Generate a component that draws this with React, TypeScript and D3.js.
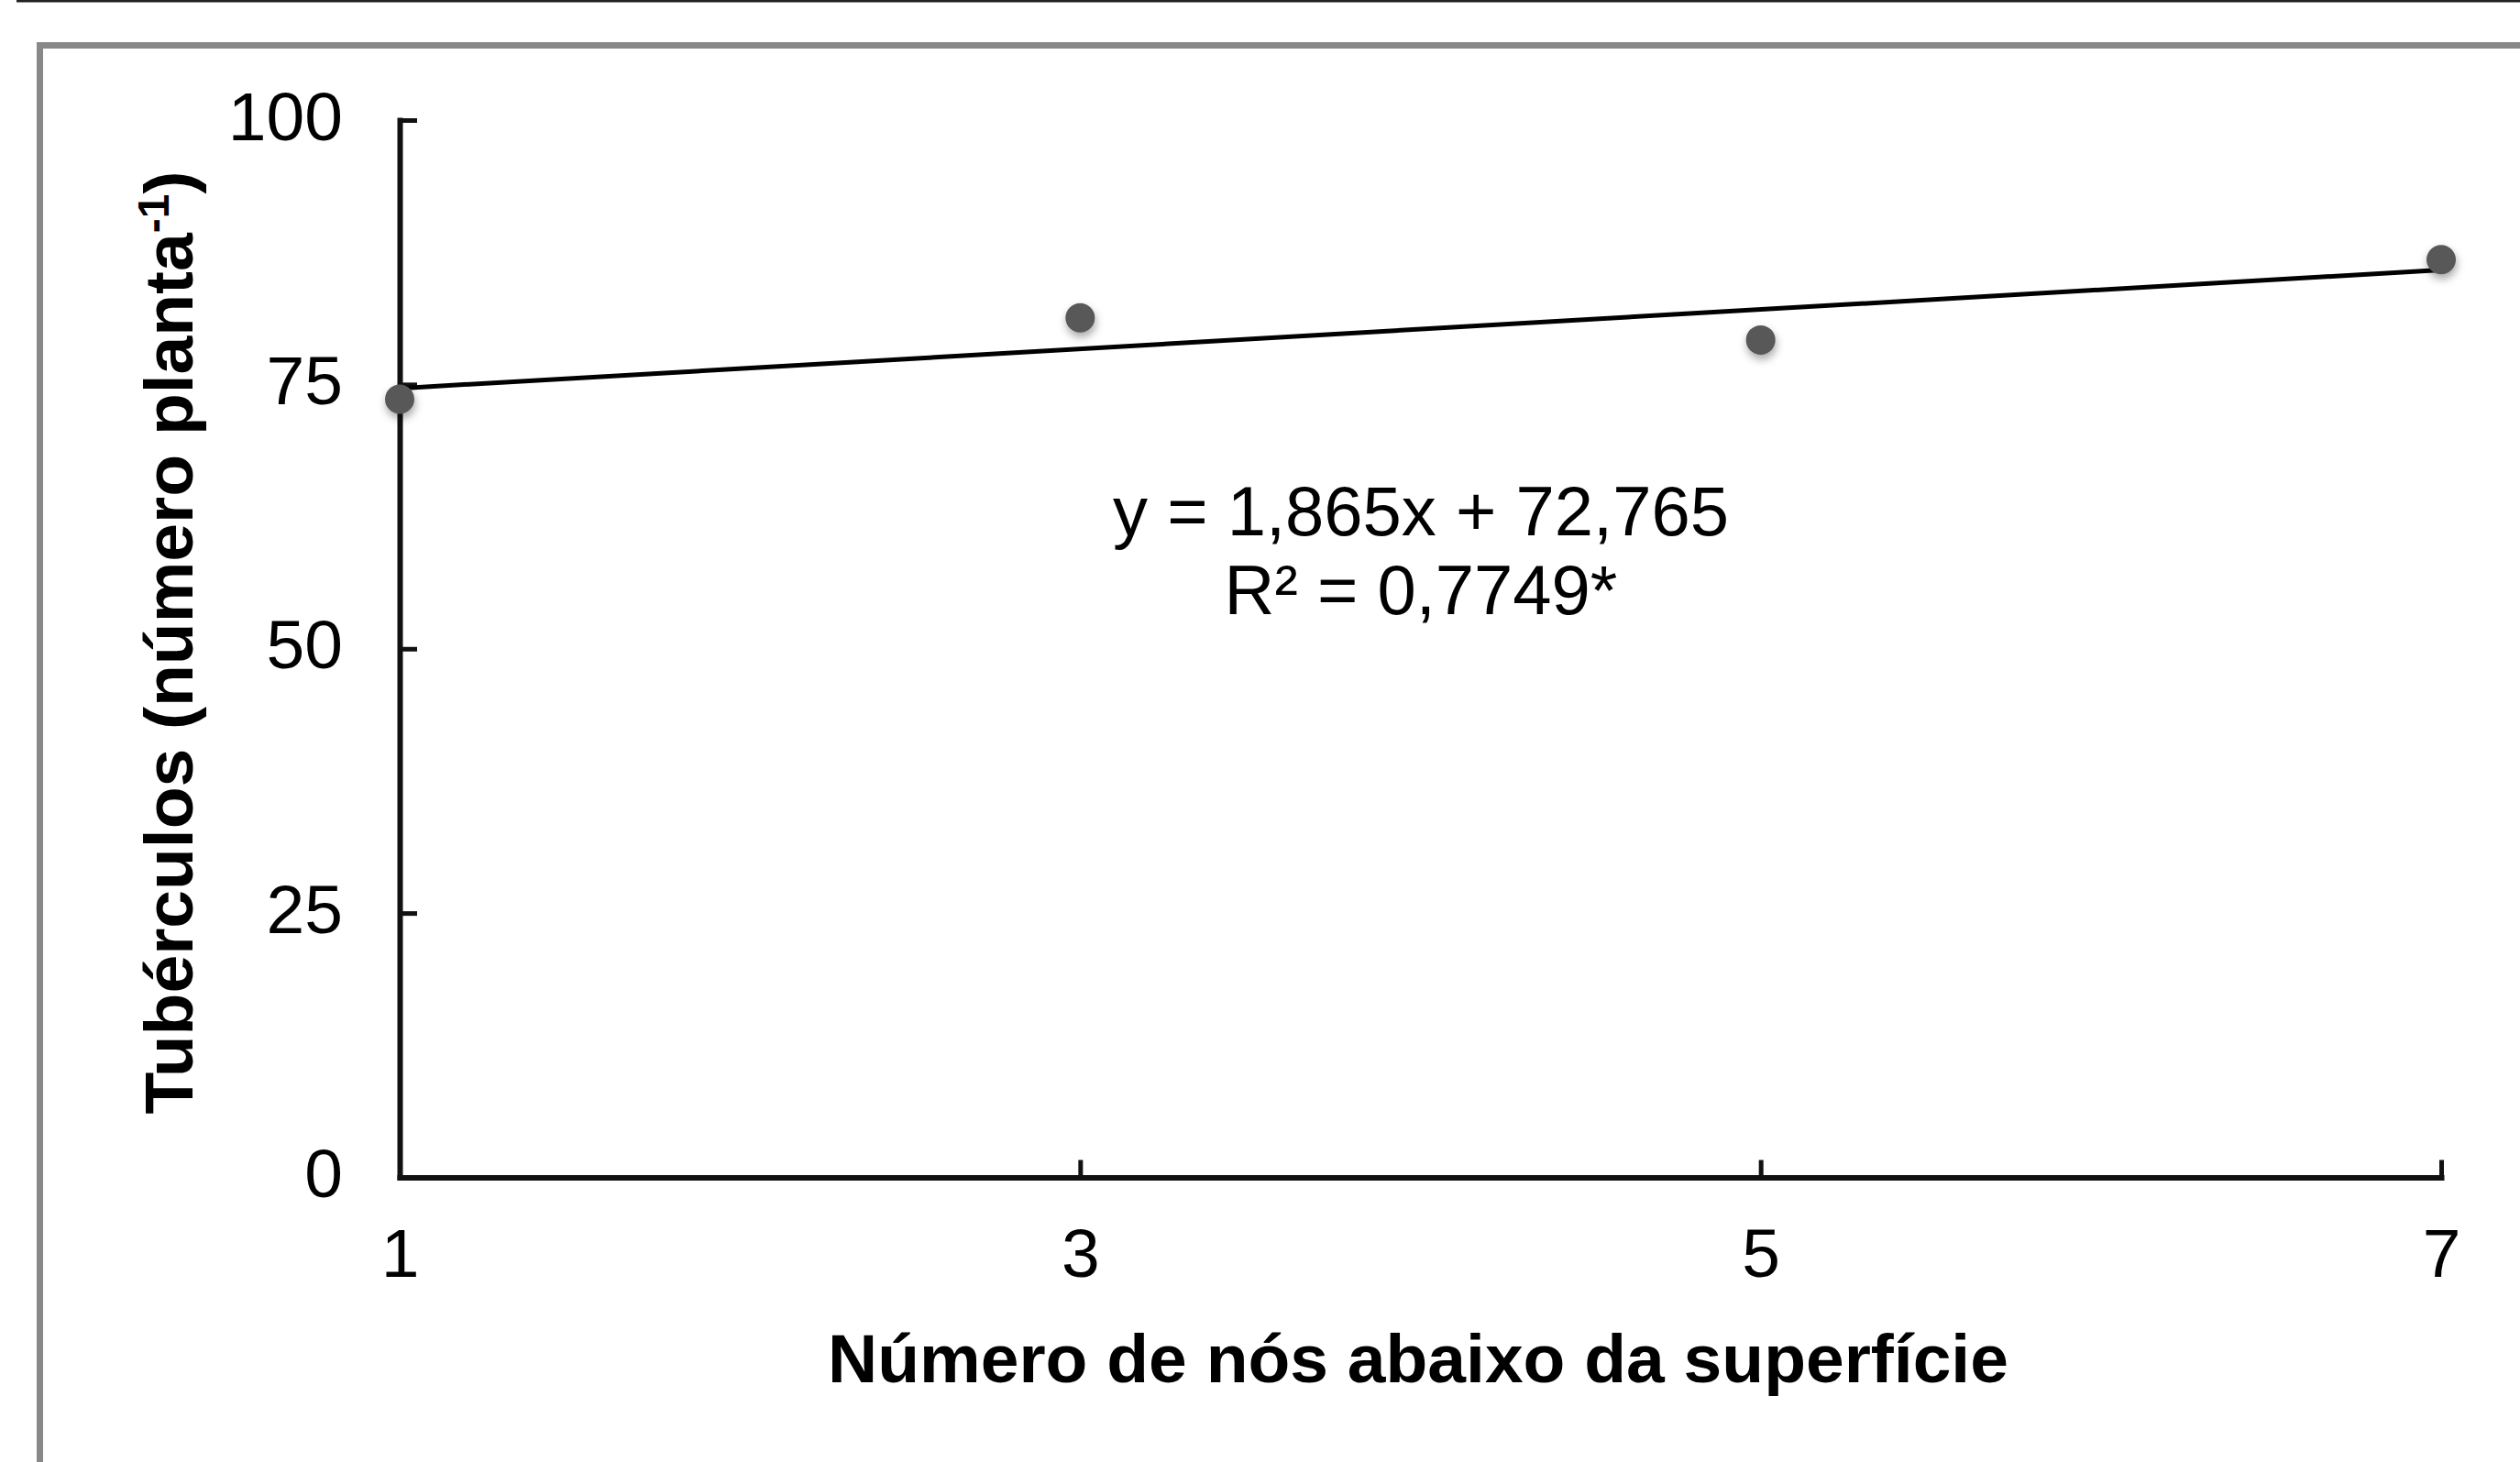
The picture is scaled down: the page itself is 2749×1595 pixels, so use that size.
import React, { useEffect, useRef } from "react";
import * as d3 from "d3";

// nodes below the soil surface vs tubers per plant
const nodes = [1, 3, 5, 7];
const tubers = [73.6, 81.3, 79.2, 86.8];
const yTicks = [0, 25, 50, 75, 100];
const xTicks = [1, 3, 5, 7];
const slope = 1.865;
const intercept = 72.765;
const eqLines = ["y = 1,865x + 72,765", "R² = 0,7749*"];

const W = 2749;
const H = 1595;
const FONT = "Arial, 'Liberation Sans', sans-serif";

export default function App() {
  const ref = useRef<SVGSVGElement>(null);

  useEffect(() => {
    const svg = d3.select(ref.current);
    svg.selectAll("*").remove();

    // outer decorations
    svg.append("line")
      .attr("x1", 18).attr("x2", W).attr("y1", 1).attr("y2", 1)
      .attr("stroke", "#222").attr("stroke-width", 3);
    svg.append("path")
      .attr("d", `M43.5,${H} V49.5 H${W}`)
      .attr("fill", "none").attr("stroke", "#888").attr("stroke-width", 7);

    const defs = svg.append("defs");
    const f = defs.append("filter").attr("id", "shadow")
      .attr("x", "-100%").attr("y", "-100%").attr("width", "300%").attr("height", "300%");
    f.append("feDropShadow").attr("dx", 1).attr("dy", 5).attr("stdDeviation", 5)
      .attr("flood-color", "#000").attr("flood-opacity", 0.35);

    const x = d3.scaleLinear().domain([1, 7]).range([436, 2663]);
    const y = d3.scaleLinear().domain([0, 100]).range([1284.5, 131]);

    // y axis, ticks inside
    const gy = svg.append("g").attr("transform", `translate(${x(1)},0)`)
      .call(d3.axisLeft(y).tickValues(yTicks).tickSizeInner(-19).tickSizeOuter(0).tickPadding(62).tickFormat(d3.format("d")));
    gy.select(".domain").attr("stroke", "#111").attr("stroke-width", 6).attr("stroke-linecap", "square");
    gy.selectAll(".tick line").attr("stroke", "#111").attr("stroke-width", 5);
    gy.selectAll(".tick text").attr("font-size", 75).attr("font-family", FONT).attr("fill", "#000").attr("dy", "0.28em");

    // x axis, ticks inside
    const gx = svg.append("g").attr("transform", `translate(0,${y(0)})`)
      .call(d3.axisBottom(x).tickValues(xTicks).tickSizeInner(-19).tickSizeOuter(0).tickPadding(55).tickFormat(d3.format("d")));
    gx.select(".domain").attr("stroke", "#111").attr("stroke-width", 6).attr("stroke-linecap", "square");
    gx.selectAll(".tick line").attr("stroke", "#111").attr("stroke-width", 5);
    gx.selectAll(".tick text").attr("font-size", 75).attr("font-family", FONT).attr("fill", "#000");

    // trend line
    const line = d3.line<number>().x(d => x(d)).y(d => y(slope * d + intercept));
    svg.append("path")
      .attr("d", line([1, 7]))
      .attr("fill", "none").attr("stroke", "#000").attr("stroke-width", 5);

    // points
    svg.append("g").selectAll("circle")
      .data(nodes)
      .join("circle")
      .attr("cx", d => x(d))
      .attr("cy", (d, i) => y(tubers[i]))
      .attr("r", 16)
      .attr("fill", "#595959")
      .attr("filter", "url(#shadow)");

    // equation
    svg.append("g").selectAll("text")
      .data(eqLines)
      .join("text")
      .attr("x", 1550)
      .attr("y", (d, i) => 584 + i * 86)
      .attr("text-anchor", "middle")
      .attr("font-size", 76)
      .attr("font-family", FONT)
      .text(d => d);

    // axis titles
    svg.append("text")
      .attr("x", 1547).attr("y", 1508)
      .attr("text-anchor", "middle")
      .attr("font-size", 75).attr("font-weight", "bold").attr("font-family", FONT)
      .text("Número de nós abaixo da superfície");

    const yt = svg.append("text")
      .attr("transform", "translate(210,701) rotate(-90)")
      .attr("text-anchor", "middle")
      .attr("font-size", 75).attr("font-weight", "bold").attr("font-family", FONT);
    yt.append("tspan").text("Tubérculos (número planta");
    yt.append("tspan").attr("font-size", 48).attr("dy", -26).text("-1");
    yt.append("tspan").attr("dy", 26).text(")");
  }, []);

  return (
    <div style={{ position: "absolute", left: 0, top: 0 }}>
      <svg ref={ref} width={W} height={H} style={{ display: "block", background: "#fff" }} />
    </div>
  );
}
